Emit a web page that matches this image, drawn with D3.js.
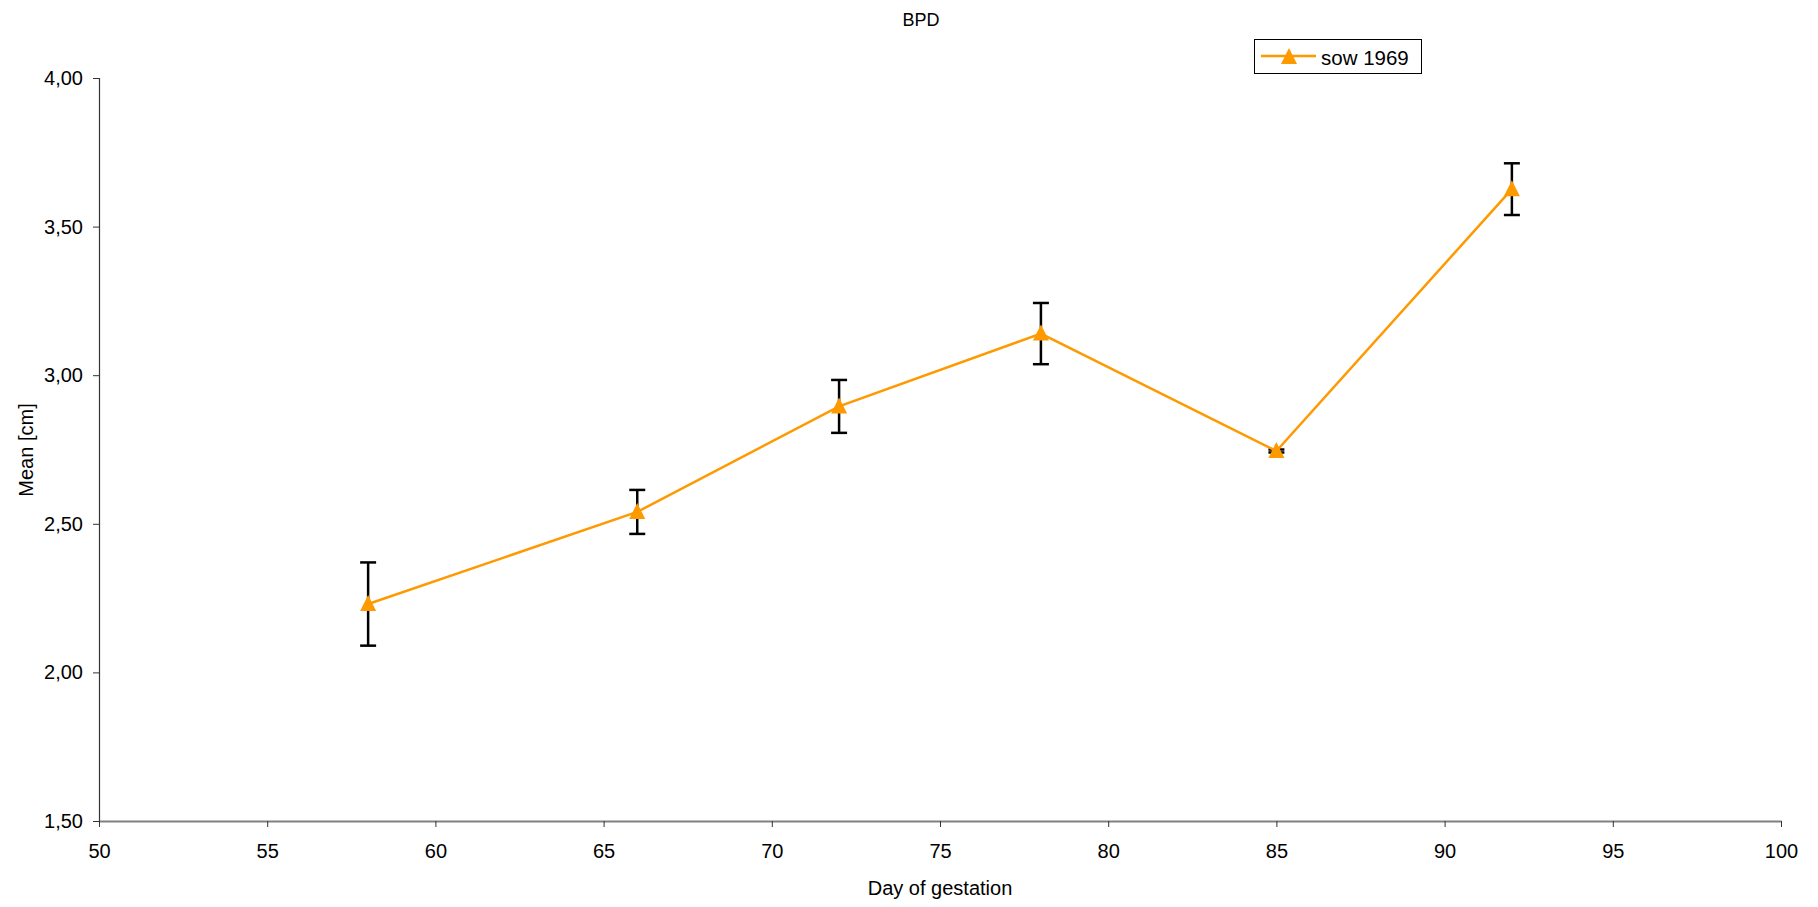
<!DOCTYPE html>
<html><head><meta charset="utf-8">
<script src="https://cdn.jsdelivr.net/npm/d3@7"></script>
<style>body{margin:0;background:#fff}svg{display:block}text{font-family:"Liberation Sans",Arial,sans-serif}</style>
</head><body><svg id="c" width="1818" height="907"></svg>
<script>
const days = [58, 66, 72, 78, 85, 92];
const means = [2.23, 2.54, 2.895, 3.14, 2.745, 3.626];
const errs = [0.14, 0.074, 0.089, 0.103, 0.005, 0.087];
const xTicks = [50,55,60,65,70,75,80,85,90,95,100];
const yTicks = [1.5,2.0,2.5,3.0,3.5,4.0];
const seriesName = "sow 1969";
const title = "BPD";
const xTitle = "Day of gestation";
const yTitle = "Mean [cm]";

const svg = d3.select("#c");
const L=99, R=1781, T=78, B=821;
const x = d3.scaleLinear().domain([50,100]).range([L,R]);
const y = d3.scaleLinear().domain([1.5,4]).range([B,T]);
const orange = "#FF9900";
const fmt = v => d3.format(".2f")(v).replace(".", ",");

// y axis
const ya = svg.append("g").attr("transform",`translate(${L},0)`)
  .call(d3.axisLeft(y).tickValues(yTicks).tickFormat(fmt).tickSize(6).tickPadding(10));
ya.select(".domain").attr("stroke","#333").attr("stroke-width",1.2);
ya.selectAll(".tick line").attr("stroke","#333");
ya.selectAll("text").attr("font-size",20).attr("fill","#000");

// x axis
const xa = svg.append("g").attr("transform",`translate(0,${B})`)
  .call(d3.axisBottom(x).tickValues(xTicks).tickSize(6).tickPadding(17).tickSizeOuter(0));
xa.select(".domain").attr("stroke","#808080").attr("stroke-width",2);
xa.selectAll(".tick line").attr("stroke","#333");
xa.selectAll("text").attr("font-size",20).attr("fill","#000");

// titles
svg.append("text").attr("x",921).attr("y",26).attr("text-anchor","middle").attr("font-size",18).text(title);
svg.append("text").attr("x",(L+R)/2).attr("y",895).attr("text-anchor","middle").attr("font-size",20).text(xTitle);
svg.append("text").attr("transform","translate(33,450) rotate(-90)").attr("text-anchor","middle").attr("font-size",20).text(yTitle);

const data = days.map((d,i)=>({d, m:means[i], e:errs[i]}));

// error bars
const eb = svg.append("g").attr("stroke","#000").attr("stroke-width",2.5);
data.forEach(p=>{
  const cx = x(p.d);
  eb.append("line").attr("x1",cx).attr("x2",cx).attr("y1",y(p.m+p.e)).attr("y2",y(p.m-p.e));
  eb.append("line").attr("x1",cx-8).attr("x2",cx+8).attr("y1",y(p.m+p.e)).attr("y2",y(p.m+p.e));
  eb.append("line").attr("x1",cx-8).attr("x2",cx+8).attr("y1",y(p.m-p.e)).attr("y2",y(p.m-p.e));
});

// line
svg.append("path").datum(data).attr("fill","none").attr("stroke",orange).attr("stroke-width",2.5)
  .attr("d", d3.line().x(p=>x(p.d)).y(p=>y(p.m)));

const tri = (cx,cy)=>`M${cx},${cy-9}L${cx+8},${cy+7}L${cx-8},${cy+7}Z`;
svg.append("g").selectAll("path").data(data).join("path")
  .attr("d",p=>tri(x(p.d),y(p.m))).attr("fill",orange);

// legend
const lg = svg.append("g");
lg.append("rect").attr("x",1254.5).attr("y",39.5).attr("width",167).attr("height",34).attr("fill","#fff").attr("stroke","#000").attr("stroke-width",1);
lg.append("line").attr("x1",1261).attr("x2",1316).attr("y1",56).attr("y2",56).attr("stroke",orange).attr("stroke-width",2.5);
lg.append("path").attr("d",tri(1289,57)).attr("fill",orange);
lg.append("text").attr("x",1321).attr("y",65).attr("font-size",20.5).text(seriesName);
</script></body></html>
